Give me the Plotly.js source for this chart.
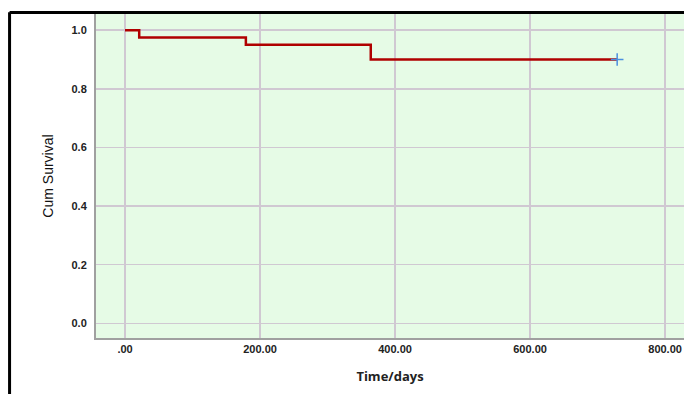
<!DOCTYPE html>
<html>
<head>
<meta charset="utf-8">
<script src="https://cdn.plot.ly/plotly-3.0.1.min.js"></script>
<style>html,body{margin:0;padding:0;background:#fff;}#chart{width:684px;height:394px;}</style>
</head>
<body>
<div id="chart"></div>
<script>
var timeDays = [0, 21, 179, 364, 729];
var cumSurvival = [1.0, 0.975, 0.95, 0.9, 0.9];
var censorTime = [729];
var censorSurvival = [0.9];
var xTickVals = [0, 200, 400, 600, 800];
var xTickText = ['.00', '200.00', '400.00', '600.00', '800.00'];
var yTickVals = [0, 0.2, 0.4, 0.6, 0.8, 1.0];
var yTickText = ['0.0', '0.2', '0.4', '0.6', '0.8', '1.0'];

var traces = [
  {x: timeDays, y: cumSurvival, type: 'scatter', mode: 'lines',
   line: {shape: 'hv', color: '#b00000', width: 2.5}, hoverinfo: 'skip', showlegend: false},
  {x: censorTime, y: censorSurvival, type: 'scatter', mode: 'markers',
   marker: {symbol: 'cross-thin-open', size: 9, line: {color: '#4a8fe0', width: 1.5}, color: '#4a8fe0'},
   hoverinfo: 'skip', showlegend: false}
];

var layout = {
  width: 684, height: 394,
  margin: {l: 96, r: 0, t: 14, b: 56},
  paper_bgcolor: '#ffffff',
  plot_bgcolor: '#e6fbe6',
  showlegend: false,
  xaxis: {
    range: [-43, 828], tickvals: xTickVals, ticktext: xTickText.map(function(t){return '<b>' + t + '</b>';}),
    showgrid: true, gridcolor: '#d0c8d2', gridwidth: 1.5, zeroline: false,
    showline: true, linecolor: '#a0a0a0', linewidth: 2, ticks: '',
    tickfont: {family: 'Liberation Sans, Arial, sans-serif', size: 11, color: '#222'},
    title: {text: '<b>Time/days</b>', font: {family: 'Open Sans, Liberation Sans, sans-serif', size: 13, color: '#222'}, standoff: 18}
  },
  yaxis: {
    range: [-0.05, 1.055], tickvals: yTickVals, ticktext: yTickText.map(function(t){return '<b>' + t + '</b>';}),
    showgrid: true, gridcolor: '#d0c8d2', gridwidth: 1.5, zeroline: false,
    showline: true, linecolor: '#a0a0a0', linewidth: 2, ticks: '',
    ticklabelstandoff: 5,
    tickfont: {family: 'Liberation Sans, Arial, sans-serif', size: 11, color: '#222'},
    title: {text: 'Cum Survival', font: {family: 'Liberation Sans Narrow, Liberation Sans, Arial, sans-serif', size: 14, color: '#111'}, standoff: 15}
  },
  shapes: [
    {type: 'line', xref: 'paper', yref: 'paper', x0: -0.147, x1: -0.147, y0: -0.2, y1: 1.0055, line: {color: '#000', width: 3}},
    {type: 'line', xref: 'paper', yref: 'paper', x0: -0.147, x1: 1.1, y0: 1.0046, y1: 1.0046, line: {color: '#000', width: 3}}
  ]
};

Plotly.newPlot('chart', traces, layout, {displayModeBar: false, staticPlot: true});
</script>
</body>
</html>
